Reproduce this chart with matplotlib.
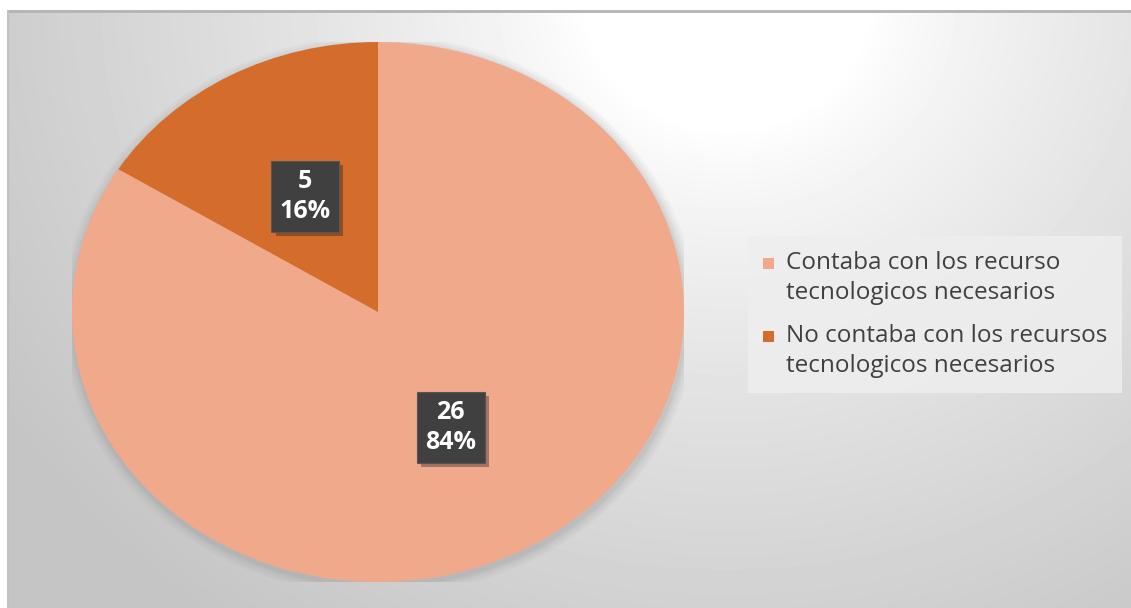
import numpy as np
import matplotlib
matplotlib.use('Agg')
import matplotlib.pyplot as plt
from matplotlib.patches import Ellipse, Rectangle
from matplotlib.legend_handler import HandlerPatch
import matplotlib.patheffects as pe

# Data
categories = ['Contaba con los recurso\ntecnologicos necesarios',
              'No contaba con los recursos\ntecnologicos necesarios']
counts = [26, 5]
colors = ['#F1A98B', '#D46D2B']

W, H = 1131, 608
fig = plt.figure(figsize=(W / 100, H / 100), dpi=100)
fig.patch.set_facecolor('white')

# gradient background (radial, bright near the top middle-right)
bg = fig.add_axes([7 / W, 0, 1 - 7 / W, (H - 10) / H])
bg.set_axis_off()
yy, xx = np.mgrid[0:598, 0:1124]
r = np.hypot(xx - 720, (yy + 10) * 1.1)
shade = np.clip((r - 140) / 720, 0, 1) ** 0.8
val = 1.0 - shade * (1.0 - 0.77)
bg.imshow(val, cmap='gray', vmin=0, vmax=1, aspect='auto', interpolation='bilinear')
bg.axhline(0, color='#b4b4b4', lw=2)
bg.axvline(0, color='#c0c0c0', lw=1.5)

# pie axes placed so the (slightly stretched) pie sits at the reference position
cx, cy, rx, ry = 378, 312, 306, 270
ax = fig.add_axes([(cx - rx) / W, (H - cy - ry) / H, 2 * rx / W, 2 * ry / H])

# soft shadow under the pie
for k, a in zip([1.035, 1.025, 1.015, 1.007], [0.05, 0.06, 0.07, 0.08]):
    ax.add_patch(Ellipse((0.004, -0.012), 2 * k, 2 * k, color='#707070', alpha=a, lw=0))

total = sum(counts)
wedges, texts, autotexts = ax.pie(
    counts, colors=colors, startangle=90, counterclock=False, radius=1,
    autopct=lambda p: f'{round(p * total / 100)}\n{p:.0f}%', pctdistance=0.49,
    textprops=dict(color='white', fontsize=18, fontweight='bold', family='Open Sans'),
    wedgeprops=dict(linewidth=0))
ax.set_aspect('auto')
ax.set_xlim(-1, 1)
ax.set_ylim(-1, 1)
ax.set_axis_off()

for t in autotexts:
    t.set_linespacing(1.25)
    t.set_bbox(dict(boxstyle='square,pad=0.33', facecolor='#404040', edgecolor='#555555', lw=0.8))
    t.get_bbox_patch().set_path_effects([pe.SimplePatchShadow(offset=(3, -3), alpha=0.35), pe.Normal()])


# legend square aligned with the first line of each two-line entry
def top_square(legend, orig_handle, xdescent, ydescent, width, height, fontsize):
    s = 0.46 * fontsize
    return Rectangle((-xdescent, -ydescent + height - s - 0.02 * fontsize), s, s)


leg = fig.legend(wedges, categories, loc='upper left',
                 bbox_to_anchor=(748 / W, 1 - 236 / H), borderaxespad=0,
                 prop=dict(family='Open Sans', size=17.5), labelcolor='#404040',
                 frameon=True, fancybox=False, handlelength=0.5, handleheight=2.4,
                 handletextpad=0.45, labelspacing=0.75, borderpad=0.6,
                 handler_map={w: HandlerPatch(patch_func=top_square) for w in wedges})
leg.get_frame().set_facecolor('#eeeeee')
leg.get_frame().set_alpha(0.85)
leg.get_frame().set_linewidth(0)
for t in leg.get_texts():
    t.set_linespacing(1.38)

fig.savefig('out.png', dpi=100)
